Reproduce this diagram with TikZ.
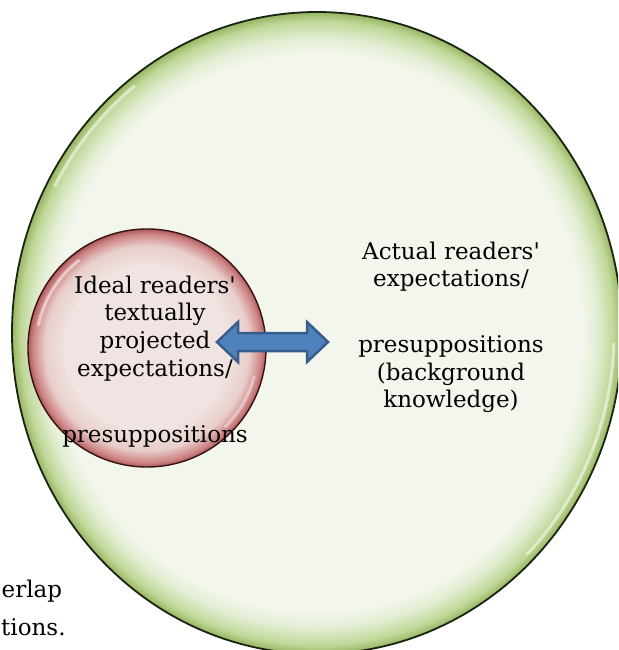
\documentclass[tikz,border=0pt]{standalone}
\usepackage{fontspec}
\newfontfamily\dvs{DejaVu Serif}
\usetikzlibrary{shapes.geometric}
\definecolor{gin}{RGB}{242,246,236}
\definecolor{gmid}{RGB}{226,237,209}
\definecolor{grim}{RGB}{192,215,152}
\definecolor{gedge}{RGB}{150,182,98}
\definecolor{gline}{RGB}{25,35,15}
\definecolor{pin}{RGB}{240,228,226}
\definecolor{pmid}{RGB}{232,206,203}
\definecolor{prim}{RGB}{205,132,132}
\definecolor{pedge}{RGB}{170,90,90}
\definecolor{pline}{RGB}{55,18,18}
\definecolor{afill}{RGB}{79,129,189}
\definecolor{aline}{RGB}{56,93,138}
\pgfdeclareradialshading{greenball}{\pgfpoint{0bp}{0bp}}{color(0bp)=(gin); color(21.8bp)=(gin); color(23bp)=(gmid); color(24.3bp)=(grim); color(25bp)=(gedge); color(50bp)=(gedge)}
\pgfdeclareradialshading{pinkball}{\pgfpoint{0bp}{0bp}}{color(0bp)=(pin); color(17bp)=(pin); color(21.5bp)=(pmid); color(24bp)=(prim); color(25bp)=(pedge); color(50bp)=(pedge)}
\tikzset{
  txt/.style={font=\dvs\fontsize{23pt}{27.7pt}\selectfont, align=center, inner sep=0pt, text=black},
  hl/.style={draw=white, opacity=0.5, line width=3pt, line cap=round},
  blockarrow/.style={fill=afill, draw=aline, line width=2.5pt, line join=miter}
}
\begin{document}
\begin{tikzpicture}[x=1pt,y=-1pt]
\useasboundingbox (0,0) rectangle (618,650);
\clip (0,0) rectangle (618,650);
% outer ellipse
\node[ellipse, minimum width=610pt, minimum height=642pt, inner sep=0pt, shading=greenball, draw=gline, line width=1.8pt] (outer) at (317,333) {};
\draw[hl] (317,333) ++(208:297 and 313) arc[start angle=208, end angle=232, x radius=297, y radius=313];
\draw[hl] (317,333) ++(2:297 and 313) arc[start angle=2, end angle=45, x radius=297, y radius=313];
% inner circle
\node[circle, minimum size=238pt, inner sep=0pt, shading=pinkball, draw=pline, line width=1.4pt] (inner) at (147,348) {};
\draw[hl] (147,348) ++(192:111) arc[start angle=192, end angle=232, radius=111];
\draw[hl, opacity=0.4] (147,348) ++(15:111) arc[start angle=15, end angle=45, radius=111];
% double block arrow
\coordinate (ltip) at (217,342);
\coordinate (rtip) at (328,342);
\path[blockarrow] (ltip) -- (238,322) -- (238,333) -- (307,333) -- (307,322) -- (rtip)
  -- (307,362) -- (307,351) -- (238,351) -- (238,362) -- cycle;
% texts
\node[txt, anchor=north] (ideal) at (155,275.5) {Ideal readers'\\textually\\projected\\expectations/\\[39pt]presuppositions};
\node[txt, anchor=north] (actual) at (451,241.5) {Actual readers'\\expectations/\\[38pt]presuppositions\\(background\\knowledge)};
\node[txt, anchor=base west] (cap1) at (1.5,597) {erlap};
\node[txt, anchor=base west] (cap2) at (1,635) {tions.};
\end{tikzpicture}
\end{document}
